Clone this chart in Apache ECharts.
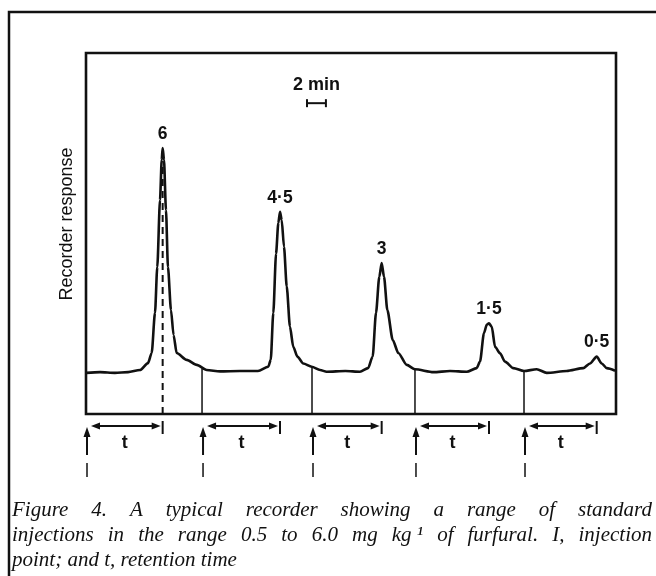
<!DOCTYPE html>
<html><head><meta charset="utf-8">
<script src="https://cdn.jsdelivr.net/npm/echarts@6/dist/echarts.min.js"></script>
<style>html,body{margin:0;padding:0;background:#fff}#c{width:656px;height:576px}</style>
</head><body><div id="c"></div>
<script>
// ---- data ----
// recorder trace: time in minutes, response in arbitrary units
const traceTime = [0, 1.48, 3.06, 4.44, 5.71, 6.55, 6.94, 7.29, 7.53, 7.82, 8.00, 8.10, 8.24, 8.45, 8.66, 8.98, 9.25, 9.58, 10.64, 11.70, 12.75, 14.16, 16.27, 18.17, 19.26, 19.52, 19.79, 20.08, 20.32, 20.50, 20.68, 20.92, 21.21, 21.55, 21.90, 22.33, 22.96, 23.85, 24.73, 25.43, 27.4, 28.95, 29.80, 30.29, 30.64, 30.99, 31.24, 31.49, 31.84, 32.41, 33.00, 33.89, 34.76, 36.7, 38.46, 40.23, 41.28, 41.63, 42.05, 42.34, 42.58, 42.87, 43.22, 43.75, 44.27, 45.15, 46.28, 47.62, 48.68, 50.79, 52.55, 53.25, 53.96, 54.49, 55.02, 55.9];
const traceResp = [11.4, 11.6, 11.4, 11.6, 12.2, 14.1, 16.9, 28.0, 40.7, 59.3, 70.4, 73.7, 70.4, 56.5, 40.7, 28.8, 21.9, 16.9, 15.0, 13.6, 12.2, 11.8, 11.9, 11.9, 13.1, 15.0, 28.0, 44.4, 52.9, 56.0, 53.7, 46.3, 35.3, 24.2, 18.6, 15.9, 14.0, 13.1, 12.2, 11.7, 11.9, 11.7, 12.7, 15.9, 28.0, 38.0, 41.8, 38.0, 28.8, 20.5, 16.9, 13.6, 12.4, 11.6, 11.9, 11.7, 12.7, 14.5, 22.4, 24.7, 25.1, 24.2, 18.6, 16.8, 14.5, 12.7, 11.9, 12.4, 11.4, 11.9, 12.7, 14.0, 15.9, 14.0, 12.7, 12.0];
const injectionTimes = [0, 12.26, 23.88, 34.76, 46.28];
const injectionBaseline = [11.4, 12.6, 13.1, 12.4, 11.9];
const peakTimes = [8.10, 20.50, 31.24, 42.58, 53.96];
const peakHeights = [73.7, 56.0, 41.8, 25.1, 15.9];
const peakLabels = ['6', '4·5', '3', '1·5', '0·5'];
const scaleBarStart = 23.35;
const scaleBarMinutes = 2;
const scaleBarLevel = 86.1;
const scaleBarLabel = '2 min';
const yAxisTitle = 'Recorder response';
const retentionLabel = 't';
const captionLines = [
  'Figure 4. A typical recorder showing a range of standard',
  'injections in the range 0.5 to 6.0 mg kg\u00a0\u00b9 of furfural. I, injection',
  'point; and t, retention time'
];
const timeMax = 56;
const respMax = 100;

// ---- layout / style ----
const INK = '#111';
const PLOT = {left: 86, top: 53, width: 530, height: 361};
const ROW_H = 70;
const BOLD = {fontFamily: '"Liberation Sans", Arial, sans-serif', fontWeight: 'bold'};

const chart = echarts.init(document.getElementById('c'), null, {renderer: 'canvas'});

const traceData = traceTime.map((t, i) => [t, traceResp[i]]);

// caption, justified word by word
const ctx = document.createElement('canvas').getContext('2d');
const CAP_SIZE = 21;
ctx.font = 'italic ' + CAP_SIZE + 'px "Liberation Serif"';
const CAP_LEFT = 12, CAP_RIGHT = 652, CAP_Y0 = 510, CAP_DY = 25;
const captionEls = [];
captionLines.forEach((line, li) => {
  const words = line.split(' ');
  const widths = words.map(w => ctx.measureText(w).width);
  const total = widths.reduce((a, b) => a + b, 0);
  const justify = li < captionLines.length - 1;
  const gap = justify ? (CAP_RIGHT - CAP_LEFT - total) / (words.length - 1) : ctx.measureText(' ').width;
  let x = CAP_LEFT;
  words.forEach((w, i) => {
    captionEls.push({type: 'text', x: x, y: CAP_Y0 + li * CAP_DY, silent: true,
      style: {text: w, fill: INK, fontStyle: 'italic', fontSize: CAP_SIZE, fontFamily: '"Liberation Serif"', verticalAlign: 'middle', align: 'left'}});
    x += widths[i] + gap;
  });
});

const option = {
  animation: false,
  backgroundColor: '#fff',
  grid: [
    {left: PLOT.left, top: PLOT.top, width: PLOT.width, height: PLOT.height, show: true, borderColor: INK, borderWidth: 2.6, backgroundColor: 'transparent'},
    {left: PLOT.left, top: PLOT.top + PLOT.height, width: PLOT.width, height: ROW_H, show: false}
  ],
  xAxis: [
    {gridIndex: 0, type: 'value', min: 0, max: timeMax, show: false},
    {gridIndex: 1, type: 'value', min: 0, max: timeMax, show: false}
  ],
  yAxis: [
    {gridIndex: 0, type: 'value', min: 0, max: respMax, show: false},
    {gridIndex: 1, type: 'value', min: 0, max: ROW_H, inverse: true, show: false}
  ],
  series: [
    {
      type: 'line', xAxisIndex: 0, yAxisIndex: 0, data: traceData, symbol: 'none',
      smooth: 0.25, smoothMonotone: 'x',
      lineStyle: {color: INK, width: 2.6}, z: 3
    },
    { // injection separators from baseline down to the axis
      type: 'custom', xAxisIndex: 0, yAxisIndex: 0,
      data: injectionTimes.slice(1).map((t, i) => [t, injectionBaseline[i + 1]]),
      renderItem: (p, api) => {
        const a = api.coord([api.value(0), 0]);
        const b = api.coord([api.value(0), api.value(1)]);
        return {type: 'line', shape: {x1: a[0], y1: a[1], x2: b[0], y2: b[1]}, style: {stroke: INK, lineWidth: 1.5}};
      }
    },
    { // dashed line under first peak
      type: 'custom', xAxisIndex: 0, yAxisIndex: 0,
      data: [[peakTimes[0], peakHeights[0]]],
      renderItem: (p, api) => {
        const a = api.coord([api.value(0), 0]);
        const b = api.coord([api.value(0), api.value(1) - 4]);
        return {type: 'line', shape: {x1: a[0], y1: a[1], x2: b[0], y2: b[1]}, style: {stroke: INK, lineWidth: 2, lineDash: [7, 5]}};
      }
    },
    { // peak labels
      type: 'custom', xAxisIndex: 0, yAxisIndex: 0,
      data: peakTimes.map((t, i) => [t, peakHeights[i], i]),
      renderItem: (p, api) => {
        const c = api.coord([api.value(0), api.value(1)]);
        return {type: 'text', x: c[0], y: c[1] - 14,
          style: Object.assign({text: peakLabels[api.value(2)], fill: INK, fontSize: 17.5, align: 'center', verticalAlign: 'middle'}, BOLD)};
      }
    },
    { // time scale bar
      type: 'custom', xAxisIndex: 0, yAxisIndex: 0,
      data: [[scaleBarStart, scaleBarStart + scaleBarMinutes, scaleBarLevel]],
      renderItem: (p, api) => {
        const a = api.coord([api.value(0), api.value(2)]);
        const b = api.coord([api.value(1), api.value(2)]);
        return {type: 'group', children: [
          {type: 'line', shape: {x1: a[0], y1: a[1], x2: b[0], y2: b[1]}, style: {stroke: INK, lineWidth: 2}},
          {type: 'line', shape: {x1: a[0], y1: a[1] - 4, x2: a[0], y2: a[1] + 4}, style: {stroke: INK, lineWidth: 2}},
          {type: 'line', shape: {x1: b[0], y1: b[1] - 4, x2: b[0], y2: b[1] + 4}, style: {stroke: INK, lineWidth: 2}},
          {type: 'text', x: (a[0] + b[0]) / 2, y: a[1] - 18,
            style: Object.assign({text: scaleBarLabel, fill: INK, fontSize: 18, align: 'center', verticalAlign: 'middle'}, BOLD)}
        ]};
      }
    },
    { // injection arrows and retention-time arrows below the plot
      type: 'custom', xAxisIndex: 1, yAxisIndex: 1,
      data: injectionTimes.map((t, i) => [t, peakTimes[i]]),
      renderItem: (p, api) => {
        const xi = api.coord([api.value(0), 0])[0] + 1;
        const xp = api.coord([api.value(1), 0])[0];
        const Y = v => api.coord([0, v])[1];
        const s = {stroke: INK, lineWidth: 2};
        return {type: 'group', children: [
          {type: 'line', shape: {x1: xi, y1: Y(41), x2: xi, y2: Y(20)}, style: s},
          {type: 'polygon', shape: {points: [[xi, Y(13)], [xi - 3.5, Y(23)], [xi + 3.5, Y(23)]]}, style: {fill: INK}},
          {type: 'line', shape: {x1: xi, y1: Y(49), x2: xi, y2: Y(63)}, style: {stroke: INK, lineWidth: 1.5}},
          {type: 'line', shape: {x1: xi + 8, y1: Y(12), x2: xp - 6, y2: Y(12)}, style: s},
          {type: 'polygon', shape: {points: [[xi + 4, Y(12)], [xi + 13, Y(8.5)], [xi + 13, Y(15.5)]]}, style: {fill: INK}},
          {type: 'polygon', shape: {points: [[xp - 2, Y(12)], [xp - 11, Y(8.5)], [xp - 11, Y(15.5)]]}, style: {fill: INK}},
          {type: 'line', shape: {x1: xp, y1: Y(7), x2: xp, y2: Y(20)}, style: s},
          {type: 'text', x: (xi + xp) / 2, y: Y(29),
            style: Object.assign({text: retentionLabel, fill: INK, fontSize: 18, align: 'center', verticalAlign: 'middle'}, BOLD)}
        ]};
      }
    }
  ],
  graphic: [
    {type: 'polyline', silent: true, shape: {points: [[9, 580], [9, 12], [660, 12]]}, style: {stroke: INK, lineWidth: 2.5, fill: null}},
    {type: 'text', x: 67, y: 224, rotation: Math.PI / 2, silent: true,
      style: {text: yAxisTitle, fill: INK, fontSize: 18, fontFamily: '"Liberation Sans", Arial, sans-serif', align: 'center', verticalAlign: 'middle'}}
  ].concat(captionEls)
};
chart.setOption(option);
</script>
</body></html>
